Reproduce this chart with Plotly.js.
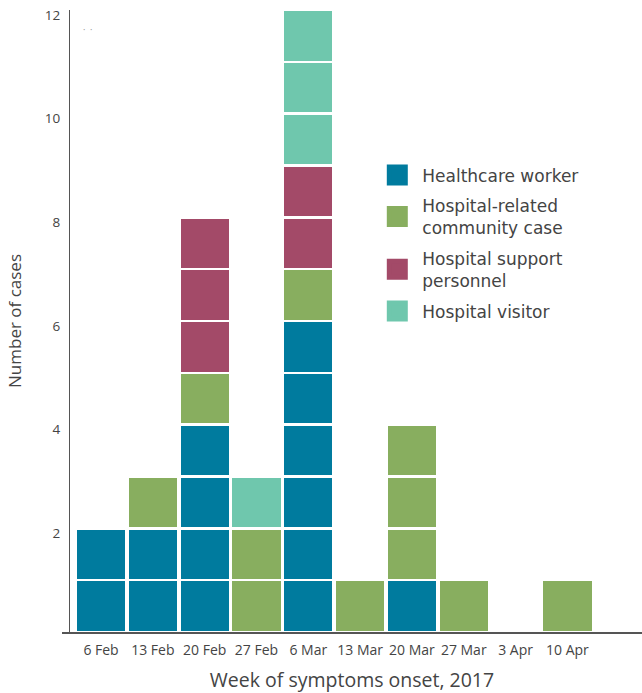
<!DOCTYPE html>
<html>
<head>
<meta charset="utf-8">
<script src="https://cdn.plot.ly/plotly-3.0.1.min.js"></script>
<style>html,body{margin:0;padding:0;background:#fff;}#chart{width:642px;height:693px;}</style>
</head>
<body>
<div id="chart"></div>
<script>
const weeks = ["6 Feb","13 Feb","20 Feb","27 Feb","6 Mar","13 Mar","20 Mar","27 Mar","3 Apr","10 Apr"];
const healthcareWorker  = [2,2,4,0,6,0,1,0,0,0];
const communityCase     = [0,1,1,2,1,1,3,1,0,1];
const supportPersonnel  = [0,0,3,0,2,0,0,0,0,0];
const hospitalVisitor   = [0,0,0,1,3,0,0,0,0,0];
const seriesNames = ["Healthcare worker","Hospital-related<br>community case","Hospital support<br>personnel","Hospital visitor"];
const seriesColors = ["#007b9e","#88ae5f","#a34a68","#6fc7ad"];
const yTicks = [2,4,6,8,10,12];

const allSeries = [healthcareWorker, communityCase, supportPersonnel, hospitalVisitor];
const traces = [];
allSeries.forEach((vals, s) => {
  const maxV = Math.max(...vals);
  for (let k = 1; k <= maxV; k++) {
    traces.push({
      type: "bar",
      x: weeks,
      y: vals.map(v => v >= k ? 1 : null),
      marker: {color: seriesColors[s], line: {color: "#ffffff", width: 2.5}},
      showlegend: false,
      hoverinfo: "skip",
      legendgroup: "g" + s
    });
  }
});
// legend entries
allSeries.forEach((vals, s) => {
  traces.push({
    type: "scatter", mode: "markers",
    x: [null], y: [null],
    name: seriesNames[s],
    legendgroup: "g" + s,
    marker: {symbol: "square", size: 22, color: seriesColors[s], line: {color: seriesColors[s], width: 5}},
    showlegend: true
  });
});

const layout = {
  width: 642, height: 693,
  margin: {l: 62, r: 0, t: 10, b: 61},
  barmode: "stack",
  bargap: 0.02,
  paper_bgcolor: "#fff",
  plot_bgcolor: "#fff",
  font: {family: "Open Sans, Noto Sans, sans-serif", color: "#444"},
  xaxis: {
    type: "category",
    range: [-0.753, 10.44],
    showgrid: false, zeroline: false,
    showline: true, linecolor: "#555", linewidth: 1.5,
    ticks: "", tickfont: {size: 14, color: "#444"},
    ticklabelstandoff: 5,
    title: {text: "Week of symptoms onset, 2017", font: {size: 19.5, color: "#444"}, standoff: 16}
  },
  yaxis: {
    range: [0, 12],
    anchor: "free", position: 0.012,
    tickvals: yTicks, ticktext: yTicks.map(String),
    showgrid: false, zeroline: false,
    showline: true, linecolor: "#555", linewidth: 1.5,
    ticks: "", tickfont: {size: 13.5, color: "#444"},
    ticklabelstandoff: 6,
    ticklabelshift: 5,
    title: {text: "Number of cases", font: {size: 17, color: "#444"}, standoff: 17}
  },
  legend: {
    x: 0.535, xanchor: "left",
    y: 0.763, yanchor: "top",
    font: {size: 17, color: "#444", family: "DejaVu Sans, sans-serif"},
    bgcolor: "rgba(0,0,0,0)",
    itemsizing: "trace",
    itemwidth: 40,
    tracegroupgap: 5.5
  },
  annotations: [
    {xref: "paper", yref: "paper", x: 0.033, y: 0.983, text: "·&nbsp;&nbsp;·", showarrow: false,
     font: {size: 9, color: "#888"}, xanchor: "left"}
  ]
};

Plotly.newPlot("chart", traces, layout, {displayModeBar: false, staticPlot: true});
</script>
</body>
</html>
